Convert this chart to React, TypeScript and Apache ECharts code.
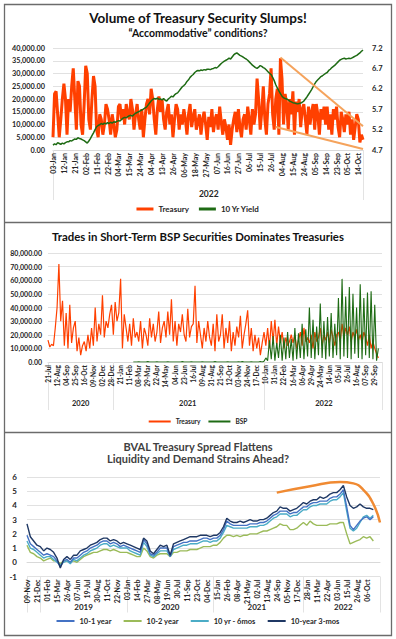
import React, { useEffect, useRef } from "react";
import * as echarts from "echarts";

// ---------------- Panel 1: Volume of Treasury Security (thousands) & 10 Yr Yield ----------------
const ticks1 = [
  "2022-01-03", "2022-01-12", "2022-01-21", "2022-02-02", "2022-02-11", "2022-02-22", "2022-03-04",
  "2022-03-15", "2022-03-24", "2022-04-04", "2022-04-13", "2022-04-26", "2022-05-06", "2022-05-18",
  "2022-05-27", "2022-06-07", "2022-06-16", "2022-06-27", "2022-07-06", "2022-07-15", "2022-07-26",
  "2022-08-04", "2022-08-15", "2022-08-24", "2022-09-05", "2022-09-14", "2022-09-23", "2022-10-05",
  "2022-10-14",
];
const treasury1 = [
  5, 22, 23, 14, 5, 12, 20,
  26, 20, 6, 20, 15, 25, 32,
  20, 8, 27, 25, 10, 6, 18,
  33, 30, 12, 8, 20, 29, 25,
  8, 5, 14, 12, 6, 10, 18,
  16, 12, 6, 14, 10, 5, 8,
  17, 18, 12, 16, 10, 18, 14,
  12, 20, 16, 8, 14, 18, 12,
  8, 16, 5, 12, 18, 20, 14,
  24, 20, 12, 6, 16, 21, 15,
  20, 12, 8, 15, 18, 10, 14,
  5, 12, 18, 16, 8, 14, 10,
  16, 12, 6, 14, 18, 9, 13,
  16, 8, 11, 14, 6, 12, 15,
  10, 4, 13, 9, 16, 7, 12,
  14, 8, 17, 11, 6, 12, 9,
  4, 10, 2, 8, 12, 15, 7,
  16, 9, 5, 12, 14, 8, 17,
  12, 6, 16, 10, 14, 28, 20,
  8, 15, 25, 12, 6, 18, 22,
  32, 14, 8, 20, 24, 6, 36,
  28, 10, 22, 18, 8, 20, 14,
  23, 6, 19, 15, 20, 9, 16,
  18, 12, 6, 17, 10, 15, 18,
  8, 18, 14, 6, 16, 12, 17,
  10, 17, 8, 14, 6, 16, 12,
  17, 9, 5, 15, 12, 7, 14,
  10, 15, 6, 12, 4, 9, 14,
  12, 3, 6, 4,
];
const yield10 = [
  4.82, 4.85, 4.83, 4.88, 4.86, 4.84, 4.87, 4.85, 4.88, 4.9,
  4.9, 4.93, 4.92, 4.95, 4.97, 4.96, 5.0, 4.98, 4.97, 4.95,
  4.93, 4.9, 4.87, 4.92, 4.98, 5.05, 5.12, 5.2, 5.27, 5.3,
  5.32, 5.35, 5.33, 5.36, 5.34, 5.37, 5.35, 5.38, 5.36, 5.39,
  5.38, 5.4, 5.42, 5.41, 5.45, 5.48, 5.5, 5.49, 5.52, 5.54,
  5.55, 5.53, 5.57, 5.6, 5.62, 5.64, 5.66, 5.68, 5.7, 5.73,
  5.75, 5.8, 5.85, 5.9, 5.94, 5.96, 5.95, 5.97, 5.94, 5.95,
  5.93, 5.96, 5.92, 5.9, 5.95, 5.98, 6.02, 6.0, 6.05, 6.08,
  6.1, 6.15, 6.2, 6.25, 6.28, 6.32, 6.38, 6.42, 6.48, 6.52,
  6.55, 6.6, 6.63, 6.65, 6.64, 6.66, 6.65, 6.67, 6.66, 6.68,
  6.68, 6.67, 6.69, 6.7, 6.72, 6.71, 6.74, 6.78, 6.82, 6.85,
  6.88, 6.9, 6.92, 6.95, 6.93, 6.98, 7.03, 7.06, 7.08, 7.05,
  7.02, 7.0, 6.98, 6.95, 6.93, 6.9, 6.86, 6.82, 6.78, 6.75,
  6.72, 6.7, 6.73, 6.77, 6.75, 6.72, 6.7, 6.66, 6.62, 6.58,
  6.55, 6.48, 6.4, 6.3, 6.22, 6.15, 6.08, 6.02, 5.98, 5.96,
  5.95, 5.93, 5.9, 5.88, 5.86, 5.85, 5.84, 5.83, 5.84, 5.85,
  5.87, 5.9, 5.95, 6.0, 6.06, 6.12, 6.18, 6.25, 6.32, 6.38,
  6.42, 6.46, 6.5, 6.52, 6.55, 6.58, 6.6, 6.65, 6.68, 6.72,
  6.75, 6.78, 6.82, 6.86, 6.9, 6.92, 6.94, 6.95, 6.93, 6.94,
  6.95, 6.94, 6.96, 6.98, 7.0, 7.02, 7.05, 7.08, 7.12, 7.15,
];
const wedgeUpper = [[146, 36.3], [199, 9.3]];
const wedgeLower = [[143, 9.0], [199, 0.4]];

// ---------------- Panel 2: Treasury vs BSP trades (thousands) ----------------
const ticks2 = [
  "2020-07-21", "2020-08-12", "2020-09-04", "2020-09-25", "2020-10-16", "2020-11-09", "2020-12-02",
  "2020-12-28", "2021-01-21", "2021-02-11", "2021-03-08", "2021-03-29", "2021-04-22", "2021-05-14",
  "2021-06-04", "2021-06-23", "2021-07-16", "2021-08-09", "2021-08-31", "2021-09-21", "2021-10-12",
  "2021-11-03", "2021-11-24", "2021-12-17", "2022-01-10", "2022-01-31", "2022-02-22", "2022-03-16",
  "2022-04-06", "2022-04-29", "2022-05-24", "2022-06-14", "2022-07-05", "2022-07-26", "2022-08-16",
  "2022-09-07", "2022-09-29",
];
const treasury2 = [
  16, 11, 13, 12, 25, 40, 72, 30, 45, 12, 36, 10, 42, 14, 25, 30, 8, 18, 5, 12,
  15, 8, 20, 10, 25, 12, 40, 15, 28, 20, 49, 18, 30, 25, 35, 42, 20, 44, 30, 36,
  61, 10, 35, 25, 15, 28, 12, 32, 18, 22, 15, 30, 10, 25, 20, 12, 32, 18, 28, 15,
  22, 37, 14, 25, 30, 18, 37, 20, 46, 15, 30, 12, 28, 22, 35, 20, 15, 39, 18, 26,
  28, 56, 14, 30, 20, 10, 25, 15, 30, 18, 12, 28, 8, 35, 15, 20, 35, 10, 25, 14,
  30, 8, 22, 12, 26, 18, 34, 10, 20, 28, 38, 12, 25, 8, 20, 10, 18, 5, 14, 22,
  12, 25, 10, 30, 15, 31, 12, 26, 14, 22, 10, 18, 12, 15, 20, 14, 20, 10, 16, 22,
  12, 25, 15, 18, 14, 20, 10, 22, 15, 18, 25, 12, 20, 16, 22, 14, 24, 18, 12, 20,
  22, 15, 28, 18, 25, 20, 26, 15, 22, 18, 24, 16, 20, 14, 22, 18, 12, 20, 10, 15,
  10, 6, 3,
];
const bspStart = 47;
const bsp2 = [
  0, 0, 0, 0.2, 0, 0, 0, 0, 0.3, 0, 0, 0,
  0, 0.2, 0, 0, 0, 0, 0, 0.2, 0, 0, 0, 0,
  0, 0, 0, 0.3, 0, 0, 0, 0, 0.2, 0, 0, 0,
  0, 0, 0.2, 0, 0, 0, 0, 0, 0, 0.3, 0, 0,
  0, 0, 0, 0, 0.2, 0, 0, 0, 0, 0, 0.2, 0,
  0.3, 0, 0, 0, 0, 0.2, 0, 0, 0, 0, 0.4, 0,
  0.5, 3, 1,
  16, 2, 19, 1, 14, 3, 20, 1, 18, 2, 22, 3, 17, 1, 25, 2, 21,
  3, 28, 2, 24, 4, 40, 3, 31, 2, 26, 5, 43, 3, 30, 2, 33, 4,
  36, 3, 28, 5, 47, 2, 61, 4, 48, 3, 55, 2, 50, 6, 40, 3, 57, 2, 47, 5, 51, 3, 52, 2, 42, 1, 10,
];

// ---------------- Panel 3: BVAL Treasury spreads ----------------
const ticks3 = [
  "2018-11-09", "2018-12-21", "2019-02-01", "2019-03-15", "2019-04-26", "2019-06-07", "2019-07-19",
  "2019-08-30", "2019-10-11", "2019-11-22", "2020-01-03", "2020-02-14", "2020-03-27", "2020-05-08",
  "2020-06-19", "2020-07-30", "2020-09-11", "2020-10-23", "2020-12-04", "2021-01-15", "2021-02-26",
  "2021-04-08", "2021-05-21", "2021-07-02", "2021-08-13", "2021-09-24", "2021-11-05", "2021-12-17",
  "2022-01-28", "2022-03-11", "2022-04-22", "2022-06-03", "2022-07-15", "2022-08-26", "2022-10-06",
];
const s10y3m = [
  2.7, 1.8, 1.5, 1.2, 1.1, 0.8, 1.0, 0.9, 0.7, 0.3, -0.4, 0.2, 0.4, 0.2, 0.5, 0.5, 0.8, 0.9,
  1.0, 1.2, 1.3, 1.4, 1.6, 1.7, 1.7, 1.5, 1.6, 1.5, 1.3, 1.4, 1.3, 1.2, 1.1, 1.0, 0.9, 1.7,
  1.5, 0.8, 0.6, 0.9, 1.2, 1.1, 1.2, 0.5, 1.3, 1.4, 1.5, 1.6, 1.7, 1.8, 1.8, 1.8, 1.9, 1.9,
  1.9, 1.8, 1.9, 1.9, 2.1, 2.5, 3.1, 2.9, 2.8, 2.8, 2.9, 2.8, 2.9, 3.0, 2.9, 2.9, 3.0, 3.0,
  3.1, 3.3, 3.5, 3.6, 3.9, 3.8, 3.8, 3.6, 3.7, 3.8, 4.0, 4.2, 4.1, 4.3, 4.4, 4.4, 4.6, 4.5,
  4.6, 4.8, 4.9, 4.9, 5.1, 5.4, 4.6, 4.0, 3.8, 3.9, 4.1, 3.9, 3.8, 3.8, 3.7,
];
const s10y1y = [
  1.9, 1.3, 1.1, 0.9, 0.7, 0.5, 0.6, 0.5, 0.4, 0.1, -0.3, 0.1, 0.2, 0.0, 0.3, 0.3, 0.5, 0.7,
  0.8, 1.0, 1.1, 1.2, 1.4, 1.5, 1.5, 1.3, 1.4, 1.3, 1.1, 1.2, 1.1, 1.0, 0.9, 0.8, 0.7, 1.6,
  1.3, 0.6, 0.5, 0.7, 1.0, 1.0, 1.0, 0.4, 1.1, 1.2, 1.3, 1.4, 1.4, 1.5, 1.5, 1.5, 1.6, 1.7,
  1.7, 1.6, 1.7, 1.7, 1.9, 2.3, 2.9, 2.7, 2.6, 2.6, 2.6, 2.6, 2.6, 2.7, 2.7, 2.7, 2.8, 2.8,
  2.9, 3.1, 3.3, 3.4, 3.6, 3.6, 3.6, 3.4, 3.5, 3.5, 3.7, 3.9, 3.9, 4.1, 4.2, 4.2, 4.3, 4.3,
  4.3, 4.5, 4.6, 4.6, 4.8, 5.1, 3.9, 2.6, 2.3, 2.6, 2.9, 3.1, 3.2, 3.0, 3.2,
];
const s10y6m = [
  1.5, 1.0, 0.9, 0.7, 0.5, 0.3, 0.4, 0.4, 0.2, 0.0, -0.2, 0.0, 0.1, -0.1, 0.2, 0.1, 0.3, 0.5,
  0.6, 0.8, 0.9, 1.0, 1.2, 1.3, 1.3, 1.1, 1.2, 1.1, 1.0, 1.0, 1.0, 0.8, 0.7, 0.6, 0.5, 1.4,
  1.1, 0.5, 0.4, 0.6, 0.8, 0.8, 0.8, 0.4, 0.9, 1.0, 1.1, 1.2, 1.2, 1.3, 1.3, 1.3, 1.4, 1.5,
  1.5, 1.4, 1.5, 1.5, 1.7, 2.1, 2.6, 2.5, 2.4, 2.4, 2.4, 2.4, 2.4, 2.5, 2.5, 2.5, 2.6, 2.6,
  2.7, 2.9, 3.1, 3.2, 3.4, 3.4, 3.4, 3.2, 3.3, 3.3, 3.5, 3.7, 3.7, 3.9, 4.0, 4.0, 4.1, 4.1,
  4.1, 4.3, 4.4, 4.4, 4.6, 4.9, 3.6, 2.4, 2.2, 2.4, 2.8, 3.2, 3.3, 3.1, 3.3,
];
const s10y2y = [
  1.2, 0.7, 0.6, 0.4, 0.3, 0.1, 0.2, 0.3, 0.1, 0.1, -0.1, 0.1, 0.1, 0.0, 0.1, 0.0, 0.2, 0.4,
  0.5, 0.6, 0.7, 0.7, 0.8, 0.9, 0.9, 0.8, 0.9, 0.8, 0.7, 0.7, 0.7, 0.6, 0.5, 0.4, 0.4, 1.0,
  0.8, 0.4, 0.3, 0.5, 0.6, 0.6, 0.6, 0.4, 0.7, 0.7, 0.8, 0.8, 0.8, 0.9, 0.9, 0.9, 1.0, 1.1,
  1.1, 1.1, 1.2, 1.2, 1.4, 1.7, 1.9, 1.9, 1.8, 1.9, 1.8, 1.9, 1.9, 2.0, 2.0, 2.0, 2.1, 2.2,
  2.2, 2.3, 2.4, 2.5, 2.7, 2.6, 2.6, 2.3, 2.3, 2.4, 2.6, 2.8, 2.6, 2.9, 2.7, 2.6, 2.6, 2.6,
  2.6, 2.7, 2.7, 2.7, 2.8, 2.8, 2.0, 1.3, 1.4, 1.5, 1.6, 1.8, 1.7, 1.8, 1.5,
];
const arc3 = [[75, 4.9], [85, 5.35], [94, 5.65], [98, 5.55], [101, 5.1], [104, 4.1], [106, 2.8]];

// ---------------- helpers ----------------
const MON = ["Jan", "Feb", "Mar", "Apr", "May", "Jun", "Jul", "Aug", "Sep", "Oct", "Nov", "Dec"];
const DAY = 86400000;
const toT = (s: string) => new Date(s + "T00:00:00Z").getTime();
const iso = (t: number) => new Date(t).toISOString().slice(0, 10);

function expand(ticks: string[], per: number, tail: number, tailStep: number): string[] {
  const out: string[] = [];
  for (let i = 0; i < ticks.length; i++) {
    out.push(ticks[i]);
    if (i < ticks.length - 1) {
      const a = toT(ticks[i]);
      const gap = (toT(ticks[i + 1]) - a) / DAY;
      for (let k = 1; k < per; k++) out.push(iso(a + Math.round((k * gap) / per) * DAY));
    }
  }
  const last = toT(ticks[ticks.length - 1]);
  for (let k = 1; k <= tail; k++) out.push(iso(last + k * tailStep * DAY));
  return out;
}
const fmtDate = (v: string) => {
  const p = v.split("-");
  return p[2] + "-" + MON[Number(p[1]) - 1];
};
function yearInfo(cats: string[], minSeg: number) {
  const bounds = new Set<number>();
  const mids = new Set<number>();
  let start = 0;
  for (let i = 1; i <= cats.length; i++) {
    if (i === cats.length || cats[i].slice(0, 4) !== cats[start].slice(0, 4)) {
      bounds.add(start);
      if (i - start >= minSeg) mids.add(Math.round((start + i - 1) / 2));
      start = i;
    }
  }
  bounds.add(cats.length - 1);
  return { bounds, mids };
}

const FONT = "Lato";
const TXT = "#262626";
const GRID = "#d9d9d9";

function dateAxis(grid: number, cats: string[], per: number, nTicks: number, fontSize: number, margin: number) {
  const lastLabel = (nTicks - 1) * per;
  return {
    type: "category",
    gridIndex: grid,
    data: cats,
    boundaryGap: false,
    axisLine: { show: true, onZero: true, lineStyle: { color: GRID, width: 1 } },
    axisTick: { show: false },
    axisLabel: {
      interval: (i: number) => i % per === 0 && i <= lastLabel,
      rotate: 90,
      formatter: fmtDate,
      fontSize,
      fontWeight: "bold",
      color: TXT,
      margin,
      fontFamily: FONT,
    },
    splitLine: { show: false },
  };
}
function yearAxis(grid: number, cats: string[], minSeg: number, tickLen: number, margin: number, fontSize: number) {
  const { bounds, mids } = yearInfo(cats, minSeg);
  return {
    type: "category",
    gridIndex: grid,
    data: cats,
    position: "bottom",
    boundaryGap: false,
    axisLine: { show: false, onZero: false },
    axisTick: { show: true, interval: (i: number) => bounds.has(i), length: tickLen, lineStyle: { color: "#e3e3e3", width: 1 } },
    axisLabel: {
      interval: (i: number) => mids.has(i),
      formatter: (v: string) => v.slice(0, 4),
      margin,
      fontSize,
      fontWeight: "bold",
      color: TXT,
      fontFamily: FONT,
    },
    splitLine: { show: false },
  };
}
const thousands = (v: number) => (v * 1000).toLocaleString("en-US", { minimumFractionDigits: 2, maximumFractionDigits: 2 });

export default function App() {
  const ref = useRef<HTMLDivElement>(null);
  useEffect(() => {
    if (!ref.current) return;
    const chart = echarts.init(ref.current, undefined, { renderer: "svg" });
    const cats1 = expand(ticks1, 7, 3, 1);
    const cats2 = expand(ticks2, 5, 4, 3);
    const cats3 = expand(ticks3, 3, 4, 14);
    const bspData = [...new Array(bspStart).fill(null), ...bsp2];

    const option: any = {
      animation: false,
      backgroundColor: "#ffffff",
      textStyle: { fontFamily: FONT },
      title: [
        { text: "Volume of Treasury Security Slumps!", left: "center", top: 11, padding: 0, textStyle: { fontSize: 13.5, fontWeight: "bold", color: "#111", fontFamily: FONT } },
        { text: "\u201CAccommodative\u201D conditions?", left: "center", top: 27, padding: 0, textStyle: { fontSize: 10.5, fontWeight: "bold", color: "#111", fontFamily: FONT } },
        { text: "Trades in Short-Term BSP Securities Dominates Treasuries", left: "center", top: 231, padding: 0, textStyle: { fontSize: 11.4, fontWeight: "bold", color: "#111", fontFamily: FONT } },
        { text: "BVAL Treasury Spread Flattens\nLiquidity and Demand Strains Ahead?", left: "center", top: 440, padding: 0, textStyle: { fontSize: 11, lineHeight: 12.5, fontWeight: "bold", color: "#404040", fontFamily: FONT } },
      ],
      legend: [
        { data: ["Treasury", "10 Yr Yield"], left: "center", top: 205, padding: 0, icon: "rect", itemWidth: 17, itemHeight: 3, itemGap: 10, textStyle: { fontSize: 8, fontWeight: "bold", color: TXT, fontFamily: FONT } },
        { data: ["Treasury", "BSP"], left: "center", top: 418, padding: 0, icon: "rect", itemWidth: 22, itemHeight: 2, itemGap: 8, textStyle: { fontSize: 6.5, fontWeight: "bold", color: TXT, fontFamily: FONT } },
        { data: ["10-1 year", "10-2 year", "10 yr - 6mos", "10-year 3-mos"], left: "center", top: 617, padding: 0, icon: "rect", itemWidth: 18, itemHeight: 2, itemGap: 12, textStyle: { fontSize: 7.5, fontWeight: "bold", color: TXT, fontFamily: FONT } },
      ],
      grid: [
        { left: 53, right: 33, top: 48, height: 102 },
        { left: 48, right: 14, top: 253, height: 109 },
        { left: 27, right: 16, top: 477, height: 99.5 },
      ],
      xAxis: [
        dateAxis(0, cats1, 7, ticks1.length, 7, 3),
        yearAxis(0, cats1, 8, 50, 39, 8.5),
        dateAxis(1, cats2, 5, ticks2.length, 6.5, 3),
        yearAxis(1, cats2, 8, 48, 37, 7.5),
        dateAxis(2, cats3, 3, ticks3.length, 7, 3),
        yearAxis(2, cats3, 8, 36, 26, 8),
      ],
      yAxis: [
        {
          type: "value", gridIndex: 0, min: 0, max: 40, interval: 5,
          axisLine: { show: false }, axisTick: { show: false },
          splitLine: { lineStyle: { color: GRID, width: 0.8 } },
          axisLabel: { formatter: thousands, fontSize: 7.3, fontWeight: "bold", color: TXT, margin: 8, fontFamily: FONT },
        },
        {
          type: "value", gridIndex: 0, position: "right", min: 4.7, max: 7.2, interval: 0.5,
          axisLine: { show: false }, axisTick: { show: false }, splitLine: { show: false },
          axisLabel: { formatter: (v: number) => v.toFixed(1), fontSize: 7.5, fontWeight: "bold", color: TXT, margin: 9, fontFamily: FONT },
        },
        {
          type: "value", gridIndex: 1, min: 0, max: 80, interval: 10,
          axisLine: { show: false }, axisTick: { show: false },
          splitLine: { lineStyle: { color: GRID, width: 0.8 } },
          axisLabel: { formatter: thousands, fontSize: 7, fontWeight: "bold", color: TXT, margin: 6, fontFamily: FONT },
        },
        {
          type: "value", gridIndex: 2, min: -1, max: 6, interval: 1,
          axisLine: { show: false }, axisTick: { show: false },
          splitLine: { lineStyle: { color: GRID, width: 0.8 } },
          axisLabel: { fontSize: 8, fontWeight: "bold", color: TXT, margin: 10, fontFamily: FONT },
        },
      ],
      series: [
        { name: "Treasury", type: "line", xAxisIndex: 0, yAxisIndex: 0, data: treasury1, showSymbol: false, lineStyle: { width: 3, color: "#FF4000" }, itemStyle: { color: "#FF4000" } },
        { name: "10 Yr Yield", type: "line", xAxisIndex: 0, yAxisIndex: 1, data: yield10, showSymbol: false, lineStyle: { width: 1.5, color: "#1E6B14" }, itemStyle: { color: "#1E6B14" } },
        { name: "wedge upper", type: "line", xAxisIndex: 0, yAxisIndex: 0, data: wedgeUpper, showSymbol: false, silent: true, lineStyle: { width: 2, color: "#F5A35C" }, itemStyle: { color: "#F5A35C" } },
        { name: "wedge lower", type: "line", xAxisIndex: 0, yAxisIndex: 0, data: wedgeLower, showSymbol: false, silent: true, lineStyle: { width: 2, color: "#F5A35C" }, itemStyle: { color: "#F5A35C" } },

        { name: "Treasury", type: "line", xAxisIndex: 2, yAxisIndex: 2, data: treasury2, showSymbol: false, lineStyle: { width: 1.2, color: "#FF4000" }, itemStyle: { color: "#FF4000" } },
        { name: "BSP", type: "line", xAxisIndex: 2, yAxisIndex: 2, data: bspData, showSymbol: false, lineStyle: { width: 1.1, color: "#1E6B14" }, itemStyle: { color: "#1E6B14" } },

        { name: "10-2 year", type: "line", xAxisIndex: 4, yAxisIndex: 3, data: s10y2y, showSymbol: false, lineStyle: { width: 1.4, color: "#9BBB59" }, itemStyle: { color: "#9BBB59" } },
        { name: "10 yr - 6mos", type: "line", xAxisIndex: 4, yAxisIndex: 3, data: s10y6m, showSymbol: false, lineStyle: { width: 1.4, color: "#4BACC6" }, itemStyle: { color: "#4BACC6" } },
        { name: "10-1 year", type: "line", xAxisIndex: 4, yAxisIndex: 3, data: s10y1y, showSymbol: false, lineStyle: { width: 1.4, color: "#4472C4" }, itemStyle: { color: "#4472C4" } },
        { name: "10-year 3-mos", type: "line", xAxisIndex: 4, yAxisIndex: 3, data: s10y3m, showSymbol: false, lineStyle: { width: 1.4, color: "#1F3864" }, itemStyle: { color: "#1F3864" } },
        { name: "spread arc", type: "line", xAxisIndex: 4, yAxisIndex: 3, data: arc3, smooth: true, showSymbol: false, silent: true, lineStyle: { width: 2.5, color: "#F08A32" }, itemStyle: { color: "#F08A32" } },
      ],
      graphic: [
        { type: "rect", shape: { x: 4.5, y: 4.5, width: 387, height: 631 }, style: { fill: "none", stroke: "#6b6b6b", lineWidth: 1.3 }, silent: true },
        { type: "line", shape: { x1: 4.5, y1: 222.5, x2: 391.5, y2: 222.5 }, style: { stroke: "#6b6b6b", lineWidth: 1.3 }, silent: true },
        { type: "line", shape: { x1: 4.5, y1: 432.5, x2: 391.5, y2: 432.5 }, style: { stroke: "#6b6b6b", lineWidth: 1.3 }, silent: true },
      ],
    };
    chart.setOption(option);
    return () => chart.dispose();
  }, []);
  return <div ref={ref} style={{ position: "absolute", left: 0, top: 0, width: 396, height: 639, background: "#fff" }} />;
}
